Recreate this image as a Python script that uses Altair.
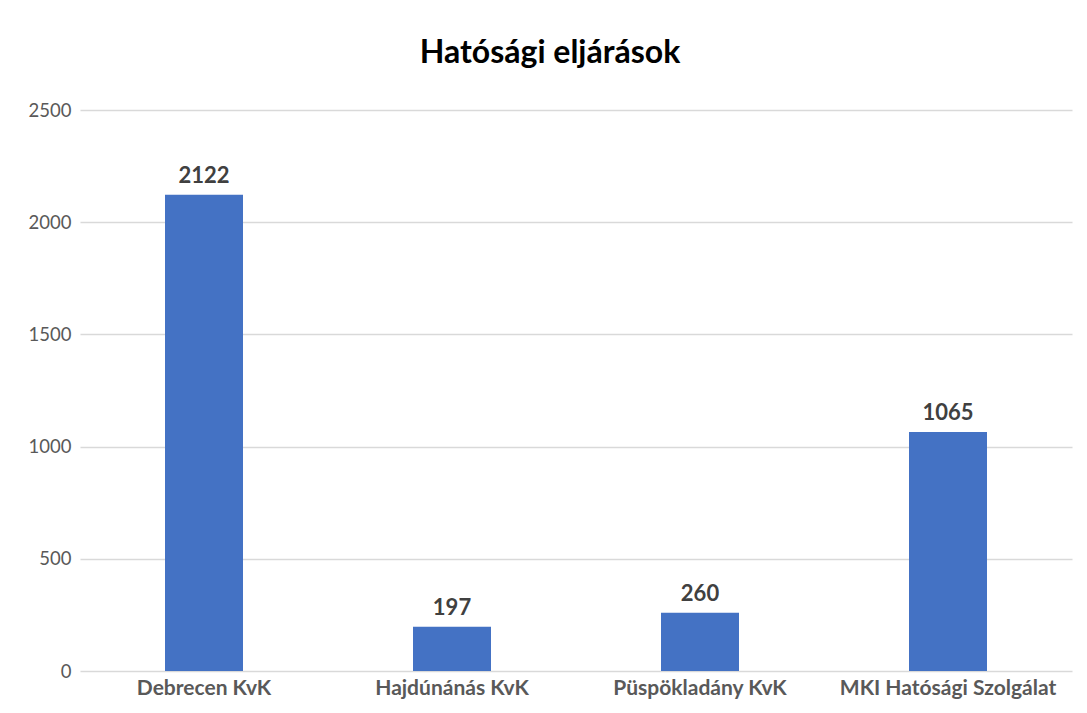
import altair as alt
import pandas as pd

categories = ["Debrecen KvK", "Hajdúnánás KvK", "Püspökladány KvK", "MKI Hatósági Szolgálat"]
values = [2122, 197, 260, 1065]

df = pd.DataFrame({"cat": categories, "val": values})

W, H = 992, 561

base = alt.Chart(df).encode(
    x=alt.X("cat:N", sort=categories, title=None,
            scale=alt.Scale(paddingInner=0, paddingOuter=0),
            axis=alt.Axis(labelAngle=0, labelFont="Lato", labelFontSize=21,
                          labelFontWeight="bold", labelColor="#595959",
                          labelPadding=6, labelLimit=0, ticks=False, domain=False)),
    y=alt.Y("val:Q", title=None,
            scale=alt.Scale(domain=[0, 2500], nice=False),
            axis=alt.Axis(values=[0, 500, 1000, 1500, 2000, 2500], format="d",
                          labelFont="Lato", labelFontSize=18.5, labelColor="#595959",
                          labelPadding=9, ticks=False, domain=False,
                          gridColor="#d9d9d9", gridWidth=1.3)),
)

bars = base.mark_bar(size=78, color="#4472C4")
labels = base.mark_text(dy=-7, baseline="bottom", font="Lato", fontSize=22,
                        fontWeight="bold", color="#404040").encode(text="val:Q")

chart = alt.layer(bars, labels).properties(
    width=W, height=H,
    title=alt.TitleParams("Hatósági eljárások", font="Lato", fontSize=32,
                          fontWeight="bold", color="#000000", anchor="middle",
                          offset=31, dx=-26),
    autosize=alt.AutoSizeParams(type="none"),
    padding={"left": 72, "top": 102, "right": 7, "bottom": 34},
).configure_view(stroke=None)

chart.save("out.html", embed_options={"renderer": "svg", "actions": False})
